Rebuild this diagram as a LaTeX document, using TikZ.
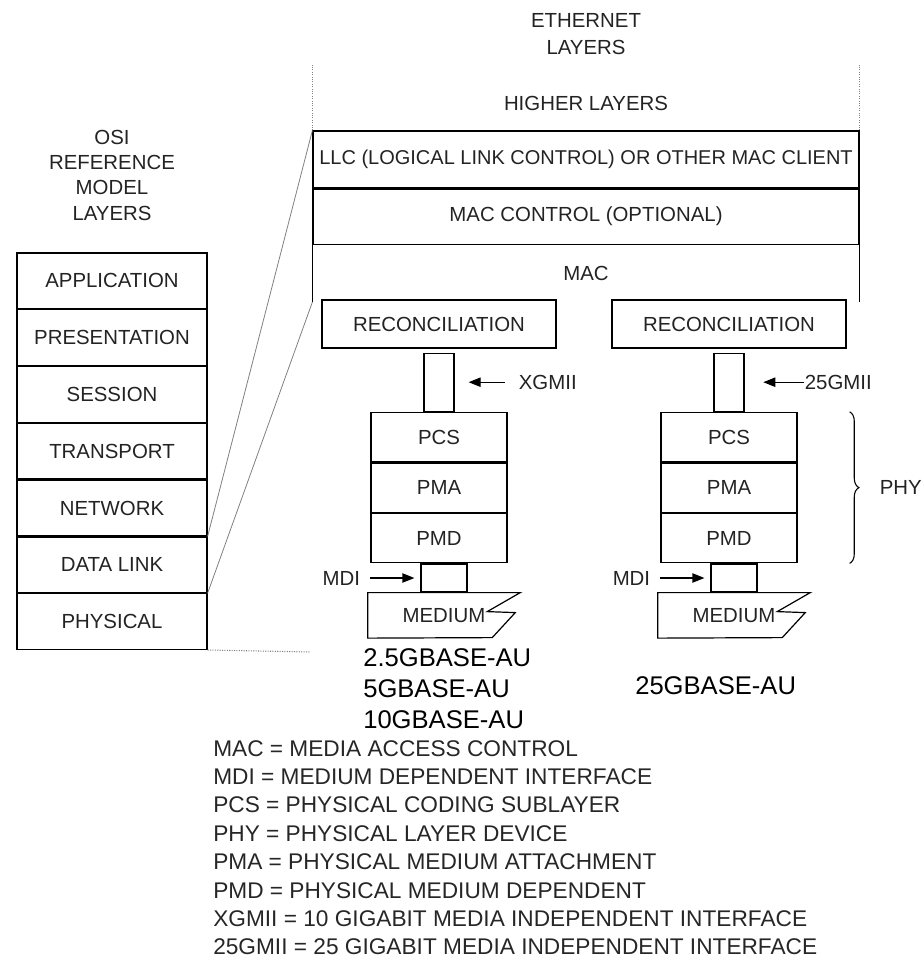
\documentclass[tikz,border=0pt]{standalone}
\usepackage{fontspec}
\setmainfont{Liberation Sans}
\usetikzlibrary{positioning,arrows.meta,decorations.pathreplacing}

\definecolor{lblgray}{RGB}{35,35,35}
\newcommand{\lblsize}{\fontsize{15.3}{19}\selectfont}
\newcommand{\legsize}{\fontsize{17}{20}\selectfont}
\newcommand{\basesize}{\fontsize{19.2}{23}\selectfont}

\begin{document}
\begin{tikzpicture}[x=0.75pt,y=0.75pt,yscale=-1,xscale=1,
  osilayer/.style={draw, line width=0.9pt, inner sep=0pt, minimum width=142.5pt, minimum height=41.7pt, font=\lblsize, text=lblgray},
  ethlayer/.style={draw, line width=0.9pt, inner sep=0pt, minimum width=409.5pt, font=\lblsize, text=lblgray},
  recbox/.style={draw, line width=0.9pt, inner sep=0pt, minimum width=175.5pt, minimum height=36pt, font=\lblsize, text=lblgray},
  sublayer/.style={draw, line width=0.9pt, inner sep=0pt, minimum width=102pt, minimum height=37pt, font=\lblsize, text=lblgray},
  miibox/.style={draw, line width=0.9pt, inner sep=0pt, minimum width=22.5pt, minimum height=43.5pt},
  mdibox/.style={draw, line width=0.9pt, inner sep=0pt, minimum width=34.5pt, minimum height=21pt},
  medbox/.style={inner sep=0pt, minimum width=114pt, minimum height=33.75pt, font=\lblsize, text=lblgray},
  lbl/.style={inner sep=0pt, font=\lblsize, text=lblgray},
  legend/.style={inner sep=0pt, font=\legsize, text=black!85, anchor=base west},
  baselbl/.style={inner sep=0pt, font=\basesize, anchor=base west},
  ptr/.style={line width=0.9pt, -{Triangle[length=9pt,width=7pt]}},
  zoomline/.style={gray, line width=0.6pt},
  dotline/.style={gray, densely dotted, line width=0.8pt}
]
\useasboundingbox (0,0) rectangle (923,959);

%Shape: OSI stack
\node[lbl, align=center] (osititle) at (112,175) {OSI\\REFERENCE\\MODEL\\LAYERS};
\node[osilayer] (app) at (112,280.8) {APPLICATION};
\node[osilayer, below=0pt of app] (pres) {PRESENTATION};
\node[osilayer, below=0pt of pres] (sess) {SESSION};
\node[osilayer, below=0pt of sess] (trans) {TRANSPORT};
\node[osilayer, below=0pt of trans] (netw) {NETWORK};
\node[osilayer, below=0pt of netw] (dlink) {DATA LINK};
\node[osilayer, below=0pt of dlink] (phys) {PHYSICAL};
\draw[dotline] (phys.south east) -- ++(103,2);

%Shape: Ethernet stack
\node[lbl, align=center, font={\fontsize{15.3}{20.25}\selectfont}] (ethtitle) at (586,34.5) {ETHERNET\\LAYERS};
\node[lbl] (higher) at (586,103) {HIGHER LAYERS};
\node[ethlayer, minimum height=42.75pt, font={\fontsize{15}{18}\selectfont}] (llc) at (586,159.5) {LLC (LOGICAL LINK CONTROL) OR OTHER MAC CLIENT};
\node[ethlayer, minimum height=41.25pt, below=0pt of llc] (macctl) {MAC CONTROL (OPTIONAL)};
\node[ethlayer, draw=none, minimum height=42pt, below=0pt of macctl] (mac) {MAC};
\draw[line width=0.9pt] (mac.north west) -- (mac.south west) (mac.north east) -- (mac.south east);
\draw[dotline] (llc.north west) -- ++(0,-65);
\draw[dotline] (llc.north east) -- ++(0,-65);

%Straight Lines: data link expanded
\draw[zoomline] (dlink.north east) -- (llc.north west);
\draw[zoomline] (dlink.south east) -- (mac.south west);

%Shape: 2.5G/5G/10G PHY
\node[recbox] (recL) at (439,324) {RECONCILIATION};
\node[miibox, below=3pt of recL] (miiL) {};
\node[sublayer, below=0pt of miiL] (pcsL) {PCS};
\node[sublayer, below=0pt of pcsL] (pmaL) {PMA};
\node[sublayer, below=0pt of pmaL] (pmdL) {PMD};
\node[mdibox, below=0pt of pmdL, xshift=3.75pt] (mdiL) {};
\node[medbox, below=0pt of mdiL] (medL) {MEDIUM};
\draw[line width=0.9pt] (medL.north west) -- (medL.north east) -- ++(-33,19) -- ++(28,1) -- ++(-23,25) -- (medL.south west) -- cycle;
\node[lbl, anchor=west, right=48pt of miiL] (xgmii) {XGMII};
\draw[ptr] ([xshift=-10.5pt]xgmii.west) -- ([xshift=10.5pt]miiL.east);
\node[lbl, anchor=east, left=45pt of mdiL] (mdiLblL) {MDI};
\draw[ptr] ([xshift=7.5pt]mdiLblL.east) -- ([xshift=-4.5pt]mdiL.west);

%Shape: 25G PHY
\node[recbox] (recR) at (729,324) {RECONCILIATION};
\node[miibox, below=3pt of recR] (miiR) {};
\node[sublayer, below=0pt of miiR] (pcsR) {PCS};
\node[sublayer, below=0pt of pcsR] (pmaR) {PMA};
\node[sublayer, below=0pt of pmaR] (pmdR) {PMD};
\node[mdibox, below=0pt of pmdR, xshift=3.75pt] (mdiR) {};
\node[medbox, below=0pt of mdiR] (medR) {MEDIUM};
\draw[line width=0.9pt] (medR.north west) -- (medR.north east) -- ++(-33,19) -- ++(28,1) -- ++(-23,25) -- (medR.south west) -- cycle;
\node[lbl, anchor=west, right=45pt of miiR] (gmii) {25GMII};
\draw[ptr] ([xshift=-0.5pt]gmii.west) -- ([xshift=14pt]miiR.east);
\node[lbl, anchor=east, left=45pt of mdiR] (mdiLblR) {MDI};
\draw[ptr] ([xshift=7.5pt]mdiLblR.east) -- ([xshift=-4.5pt]mdiR.west);

% PHY brace
\draw[line width=0.8pt, decorate, decoration={brace, amplitude=7pt}] ([xshift=39pt]pcsR.north east) -- ([xshift=39pt]pmdR.south east);
\node[lbl, anchor=west, right=61.5pt of pmaR] (phy) {PHY};

% Text Node
\node[baselbl] (au2) at (363,666) {2.5GBASE-AU};
\node[baselbl] (au5) at (363,697) {5GBASE-AU};
\node[baselbl] (au10) at (363,728) {10GBASE-AU};
\node[baselbl] (au25) at (635,694) {25GBASE-AU};

% Legend
\foreach \txt [count=\i] in {MAC = MEDIA ACCESS CONTROL, MDI = MEDIUM DEPENDENT INTERFACE, PCS = PHYSICAL CODING SUBLAYER, PHY = PHYSICAL LAYER DEVICE, PMA = PHYSICAL MEDIUM ATTACHMENT, PMD = PHYSICAL MEDIUM DEPENDENT, XGMII = 10 GIGABIT MEDIA INDEPENDENT INTERFACE, 25GMII = 25 GIGABIT MEDIA INDEPENDENT INTERFACE}
  \node[legend] (leg\i) at (213,{727.6+28.4*\i}) {\txt};

\end{tikzpicture}
\end{document}
